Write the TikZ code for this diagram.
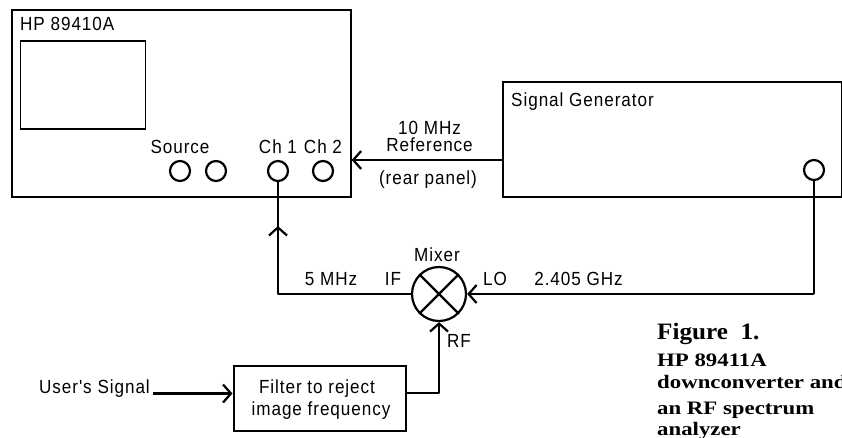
\documentclass[tikz,border=0pt]{standalone}
\usepackage{fontspec}
\setmainfont{Liberation Sans}
\newfontfamily\narrowfont[FakeStretch=0.9,LetterSpace=5]{Liberation Sans}
\newfontfamily\capfont[FakeStretch=1.2]{Liberation Serif}
\newfontfamily\headfont[FakeStretch=1.07]{Liberation Serif}
\usetikzlibrary{arrows.meta}
\tikzset{
  box/.style={draw=black,line width=2.2pt,inner sep=0pt,anchor=north west,minimum width=#1},
  port/.style={draw=black,line width=2.2pt,circle,inner sep=0pt,minimum size=20pt},
  wire/.style={line width=2.2pt,line join=round},
  tipped/.style={wire,-{Straight Barb[length=8pt,width=18pt,line width=2.2pt]}},
  lab/.style={font=\narrowfont\fontsize{19}{20}\selectfont,inner sep=0pt,anchor=base},
  labw/.style={lab,anchor=base west},
  captext/.style={font=\capfont\bfseries\fontsize{19}{19}\selectfont,inner sep=0pt,anchor=base west},
  headtext/.style={font=\headfont\bfseries\fontsize{23.5}{24}\selectfont,inner sep=0pt,anchor=base west},
}
\begin{document}
\begin{tikzpicture}[x=1pt,y=-1pt]
\useasboundingbox (0,0) rectangle (842,437);
\clip (0,0) rectangle (842,437);
% HP 89410A
\node[box=339pt,minimum height=187pt] (hp) at (10.5,8.5) {};
\node[labw] (hptext) at (20,30) {HP 89410A};
\node[draw=black,line width=1.5pt,inner sep=0pt,anchor=north west,minimum width=125pt,minimum height=88pt] (screen) at (19.5,40) {};
\node[lab] (source) at (180,153) {Source};
\node[lab] (ch1t) at (278,153) {Ch 1};
\node[lab] (ch2t) at (323,153) {Ch 2};
\node[port] (s1) at (180,171) {};
\node[port] (s2) at (216,171) {};
\node[port] (ch1) at (278,171) {};
\node[port] (ch2) at (323,171) {};
% Signal generator
\node[box=339.5pt,minimum height=115pt] (gen) at (501.5,81) {};
\node[labw] (gent) at (511,106) {Signal Generator};
\node[port] (genp) at (814,170) {};
% Mixer
\node[draw=black,line width=2.2pt,circle,inner sep=0pt,minimum size=54pt] (mix) at (439,294) {};
\draw[line width=2.2pt] (mix.45) -- (mix.225) (mix.135) -- (mix.315);
\node[lab] (mixt) at (437,261) {Mixer};
\node[lab] (if) at (393,285) {IF};
\node[lab] (lo) at (495,285) {LO};
\node[lab] (rf) at (459,347) {RF};
\node[lab] (fivemhz) at (331,285) {5 MHz};
\node[lab] (lofreq) at (578.5,285) {2.405 GHz};
\node[lab] (tenmhz) at (429.5,134) {10 MHz};
\node[lab] (ref) at (429.5,151) {Reference};
\node[lab] (rear) at (428,184) {(rear panel)};
% Filter
\node[box=172.5pt,minimum height=65pt] (filter) at (232.5,365) {};
\node[lab] (ft1) at (317,393) {Filter to reject};
\node[lab] (ft2) at (321,415) {image frequency};
\node[lab,anchor=base east] (user) at (150,393) {User's Signal};
% Connectors
\coordinate (refend) at (gen.west |- 0,160);
\coordinate (hpin) at (hp.east |- 0,160);
\draw[tipped] (refend) -- (hpin);
\coordinate (corner1) at (ch1.south |- mix.west);
\coordinate (midarrow) at (278,226);
\draw[wire] (mix.west) -- (corner1) -- (midarrow);
\draw[tipped] (corner1) -- (midarrow);
\draw[wire] (midarrow) -- (ch1.south);
\coordinate (corner2) at (genp.south |- mix.east);
\draw[wire] (genp.south) -- (corner2);
\draw[tipped] (corner2) -- (mix.east);
\coordinate (fout) at (filter.east |- 0,393);
\coordinate (corner3) at (mix.south |- fout);
\draw[tipped] (fout) -- (corner3) -- (mix.south);
\coordinate (userend) at (153,393.5);
\coordinate (fin) at (filter.west |- userend);
\draw[tipped,line width=2.8pt] (userend) -- (fin);
% Caption
\node[headtext] (c1) at (657,339) {Figure\ \ 1.};
\node[captext] (c2) at (657,366) {HP 89411A};
\node[captext] (c3) at (657,388) {downconverter and};
\node[captext] (c4) at (657,414) {an RF spectrum};
\node[captext] (c5) at (657,435) {analyzer};
\end{tikzpicture}
\end{document}
